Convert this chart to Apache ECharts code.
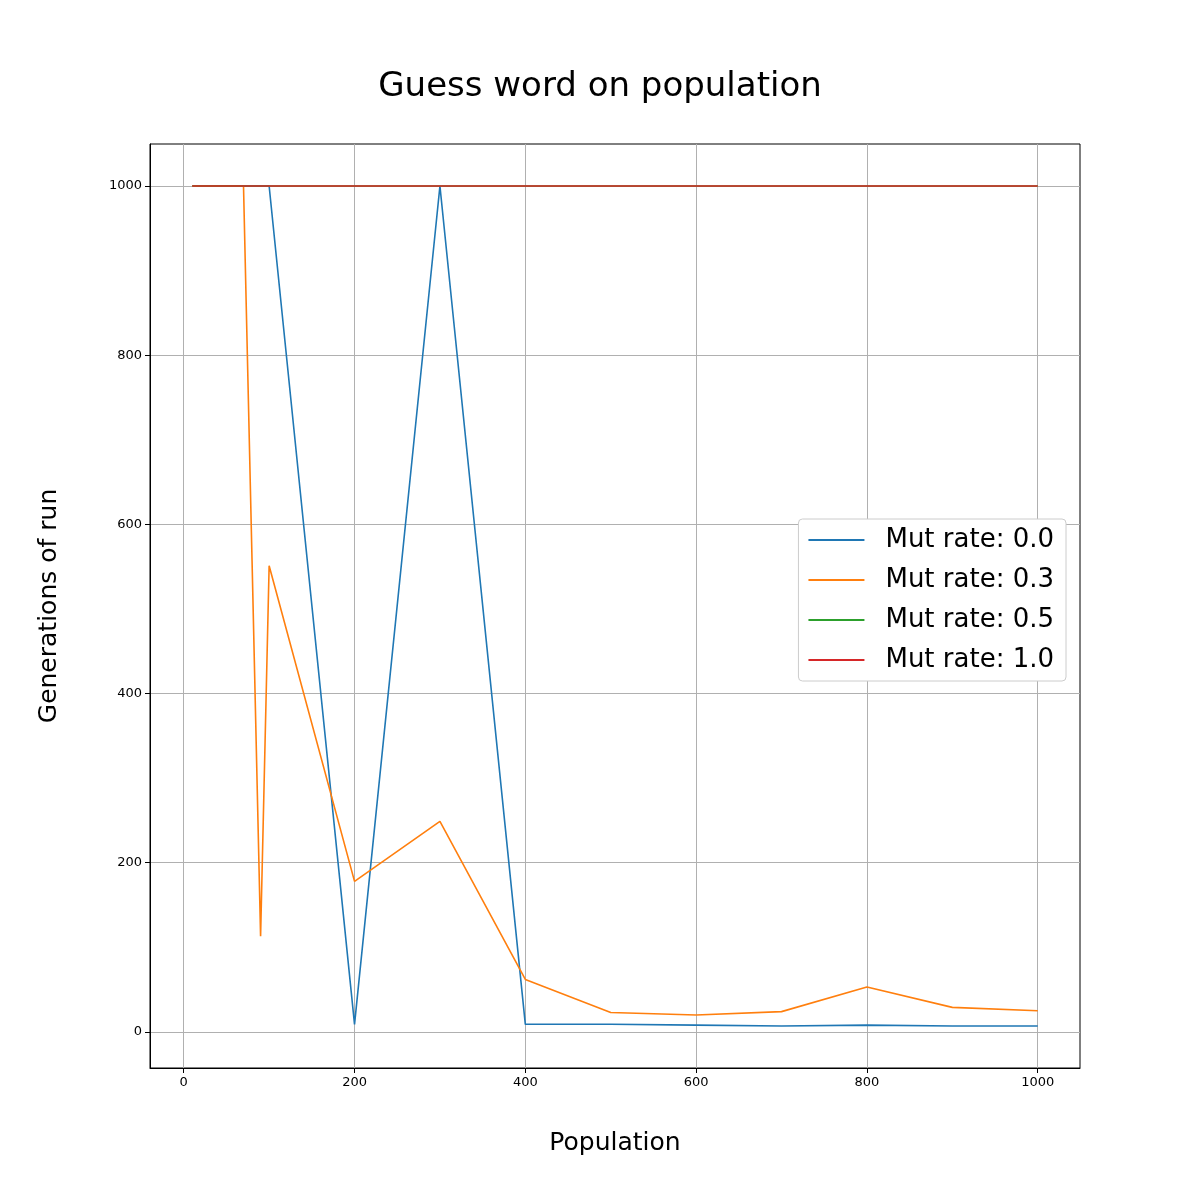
<!DOCTYPE html>
<html><head><meta charset="utf-8">
<script src="https://cdn.jsdelivr.net/npm/echarts@6/dist/echarts.min.js"></script>
<style>html,body{margin:0;padding:0;background:#fff}#c{width:1200px;height:1200px}</style>
</head><body><div id="c"></div>
<script>
const population = [10,20,30,40,50,60,70,80,90,100,200,300,400,500,600,700,800,900,1000];
const mut00 = [1000,1000,1000,1000,1000,1000,1000,1000,1000,1000,9,1000,9,9,8,7,8,7,7];
const mut03 = [1000,1000,1000,1000,1000,1000,1000,557,113,551,178,249,62,23,20,24,53,29,25];
const mut05 = [1000,1000,1000,1000,1000,1000,1000,1000,1000,1000,1000,1000,1000,1000,1000,1000,1000,1000,1000];
const mut10 = [1000,1000,1000,1000,1000,1000,1000,1000,1000,1000,1000,1000,1000,1000,1000,1000,1000,1000,1000];
const xTicks = [0,200,400,600,800,1000];
const yTicks = [0,200,400,600,800,1000];
const names = ['Mut rate: 0.0','Mut rate: 0.3','Mut rate: 0.5','Mut rate: 1.0'];
const colors = ['#1f77b4','#ff7f0e','#2ca02c','#d62728'];
const sets = [mut00, mut03, mut05, mut10];
const chart = echarts.init(document.getElementById('c'));
const font = 'DejaVu Sans';
const axisCommon = {
  axisLine:{show:true,onZero:false,lineStyle:{color:'#000'}},
  splitLine:{show:true,lineStyle:{color:'#b0b0b0',width:1}}
};
chart.setOption({
  animation:false,
  textStyle:{fontFamily:font},
  title:{text:'Guess word on population',left:'center',top:65,textStyle:{fontFamily:font,fontSize:34,fontWeight:'normal',color:'#000'}},
  grid:{left:150,right:120,top:144,bottom:132,show:true,borderColor:'#000',borderWidth:1},
  legend:{orient:'vertical',right:134,top:519,itemWidth:56,itemHeight:2,itemGap:14,
    backgroundColor:'#fff',borderColor:'#ccc',borderWidth:1,borderRadius:4,padding:[8,12,8,10],
    textStyle:{fontFamily:font,fontSize:26,color:'#000',padding:[0,0,0,16]},
    data:names.map((n,i)=>({name:n,icon:'rect',itemStyle:{color:colors[i]}}))},
  xAxis:Object.assign({type:'value',min:-39.5,max:1049.5,name:'Population',nameLocation:'middle',nameGap:63,
    nameTextStyle:{fontFamily:font,fontSize:25,color:'#000'},
    axisTick:{show:true,customValues:xTicks,length:5,lineStyle:{color:'#000'}},
    axisLabel:{customValues:xTicks,fontSize:13,color:'#000',fontFamily:font,formatter:v=>String(v)}},axisCommon),
  yAxis:Object.assign({type:'value',min:-42.65,max:1049.65,name:'Generations of run',nameLocation:'middle',nameGap:88,
    nameTextStyle:{fontFamily:font,fontSize:25,color:'#000'},
    axisTick:{show:true,customValues:yTicks,length:5,lineStyle:{color:'#000'}},
    axisLabel:{customValues:yTicks,fontSize:13,color:'#000',fontFamily:font,formatter:v=>String(v)}},axisCommon),
  series:sets.map((d,i)=>({name:names[i],type:'line',showSymbol:false,symbol:'none',
    data:population.map((x,j)=>[x,d[j]]),lineStyle:{color:colors[i],width:1.6},itemStyle:{color:colors[i]},z:2+i}))
});
</script></body></html>
